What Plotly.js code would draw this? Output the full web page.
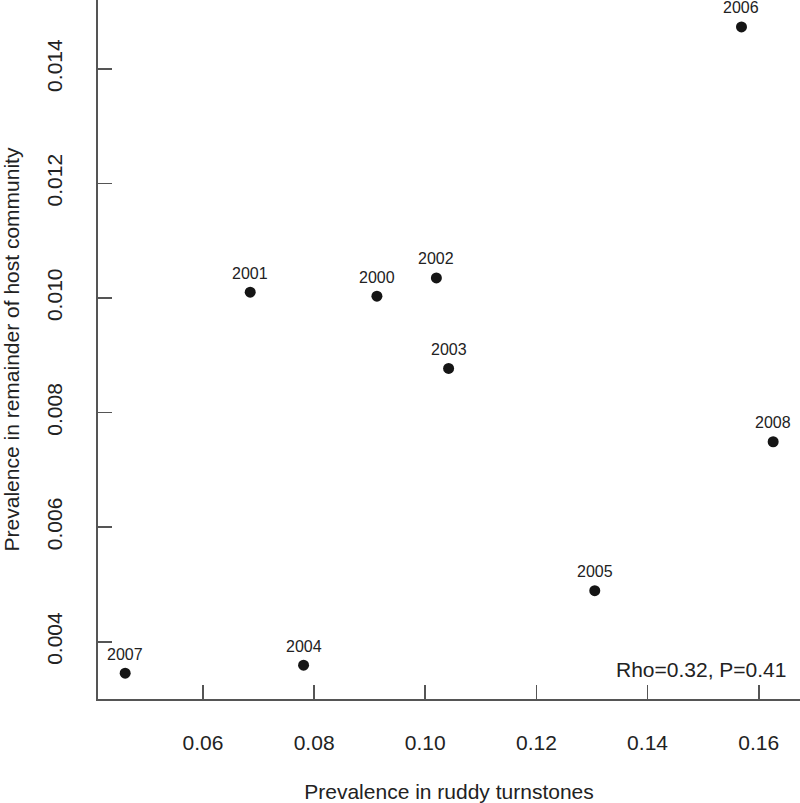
<!DOCTYPE html>
<html>
<head>
<meta charset="utf-8">
<script src="https://cdn.plot.ly/plotly-3.0.1.min.js"></script>
<style>html,body{margin:0;padding:0;background:#fff;}#chart{width:800px;height:803px;}</style>
</head>
<body>
<div id="chart"></div>
<script>
const years = ["2000","2001","2002","2003","2004","2005","2006","2007","2008"];
const turnstonePrev = [0.0913, 0.0685, 0.1020, 0.1042, 0.0781, 0.1305, 0.1569, 0.0460, 0.1626];
const communityPrev = [0.01003, 0.01010, 0.01035, 0.00877, 0.00359, 0.00489, 0.01473, 0.00345, 0.00749];
const xTicks = [0.06, 0.08, 0.10, 0.12, 0.14, 0.16];
const xTickText = ["0.06", "0.08", "0.10", "0.12", "0.14", "0.16"];
const yTicks = [0.004, 0.006, 0.008, 0.010, 0.012, 0.014];
const yTickText = ["0.004", "0.006", "0.008", "0.010", "0.012", "0.014"];
const statText = "Rho=0.32, P=0.41";

const font = "Liberation Sans, Arial, sans-serif";

const trace = {
  x: turnstonePrev,
  y: communityPrev,
  mode: "markers",
  type: "scatter",
  marker: {size: 11, color: "#151515"},
  cliponaxis: false,
  hoverinfo: "skip"
};

const yearLabels = years.map((yr, i) => ({
  text: yr, x: turnstonePrev[i], y: communityPrev[i], xref: "x", yref: "y",
  xanchor: "center", yanchor: "middle", yshift: 19, showarrow: false,
  font: {family: font, size: 16, color: "#222"}
}));

const axisCommon = {
  showline: true, linecolor: "#555", linewidth: 1.6,
  ticks: "inside", ticklen: 14, tickwidth: 1.6, tickcolor: "#555",
  showgrid: false, zeroline: false, mirror: false,
  tickfont: {family: font, size: 21, color: "#222"}
};

const layout = {
  width: 800, height: 803,
  margin: {l: 98, r: 0, t: 0, b: 104, pad: 0},
  paper_bgcolor: "#fff", plot_bgcolor: "#fff",
  showlegend: false,
  xaxis: Object.assign({}, axisCommon, {
    range: [0.04111, 0.16743],
    tickmode: "array", tickvals: xTicks, ticktext: xTickText,
    ticklabelstandoff: 24,
    title: {text: "Prevalence in ruddy turnstones", font: {family: font, size: 21, color: "#222"}, standoff: 34}
  }),
  yaxis: Object.assign({}, axisCommon, {
    range: [0.003, 0.0152],
    tickmode: "array", tickvals: yTicks, ticktext: yTickText,
    tickangle: -90,
    ticklabelstandoff: 26,
    title: {text: "Prevalence in remainder of host community", font: {family: font, size: 21, color: "#222"}, standoff: 30}
  }),
  annotations: yearLabels.concat([{
    text: statText, xref: "paper", yref: "paper",
    x: 0.983, y: 0.0415, xanchor: "right", yanchor: "middle",
    showarrow: false, font: {family: font, size: 21, color: "#222"}
  }])
};

Plotly.newPlot("chart", [trace], layout, {staticPlot: true, displayModeBar: false});
</script>
</body>
</html>
